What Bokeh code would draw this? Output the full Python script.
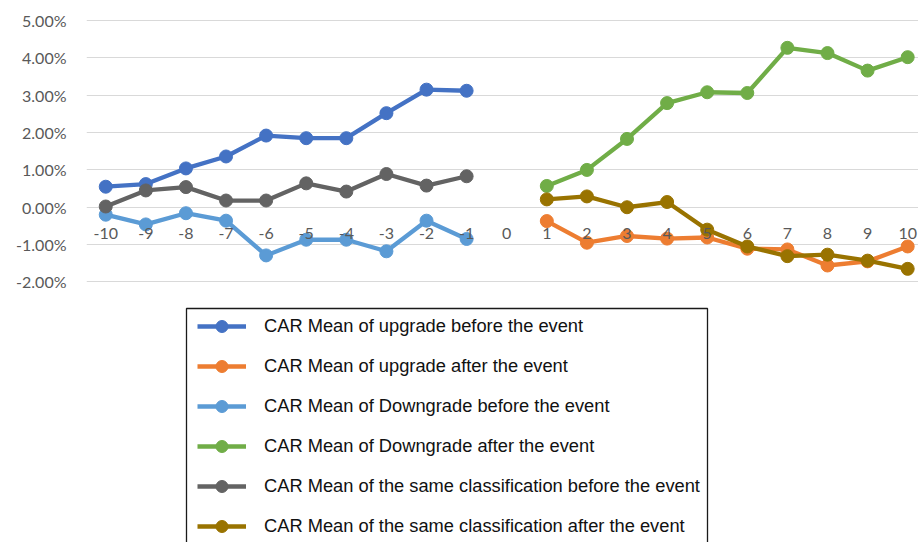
from bokeh.plotting import figure
from bokeh.models import (Range1d, FixedTicker, NumeralTickFormatter, Legend, LegendItem,
                          ColumnDataSource, LabelSet, BoxAnnotation)
from bokeh.core.properties import value
from bokeh.embed import file_html
from bokeh.resources import INLINE

# ---------------- data ----------------
days_before = [-10, -9, -8, -7, -6, -5, -4, -3, -2, -1]
days_after = [1, 2, 3, 4, 5, 6, 7, 8, 9, 10]

upgrade_before = [0.0055, 0.0062, 0.0104, 0.0136, 0.0192, 0.0185, 0.0185, 0.0252, 0.0315, 0.0312]
upgrade_after = [-0.0037, -0.0095, -0.0077, -0.0084, -0.0081, -0.0111, -0.0113, -0.0156, -0.0145, -0.0105]
downgrade_before = [-0.0020, -0.0046, -0.0016, -0.0036, -0.0129, -0.0087, -0.0087, -0.0118, -0.0036, -0.0085]
downgrade_after = [0.0057, 0.0100, 0.0183, 0.0279, 0.0308, 0.0306, 0.0427, 0.0413, 0.0366, 0.0402]
same_before = [0.0002, 0.0045, 0.0054, 0.0018, 0.0018, 0.0064, 0.0042, 0.0089, 0.0058, 0.0083]
same_after = [0.0021, 0.0029, 0.0000, 0.0014, -0.0060, -0.0105, -0.0131, -0.0127, -0.0143, -0.0165]

x_tick_values = [-10, -9, -8, -7, -6, -5, -4, -3, -2, -1, 0, 1, 2, 3, 4, 5, 6, 7, 8, 9, 10]
x_tick_labels = ["-10", "-9", "-8", "-7", "-6", "-5", "-4", "-3", "-2", "-1", "0",
                 "1", "2", "3", "4", "5", "6", "7", "8", "9", "10"]
y_ticks = [-0.02, -0.01, 0.0, 0.01, 0.02, 0.03, 0.04, 0.05]

series = [
    ("CAR Mean of upgrade before the event", days_before, upgrade_before, "#4472C4"),
    ("CAR Mean of upgrade after the event", days_after, upgrade_after, "#ED7D31"),
    ("CAR Mean of Downgrade before the event", days_before, downgrade_before, "#5B9BD5"),
    ("CAR Mean of Downgrade after the event", days_after, downgrade_after, "#70AD47"),
    ("CAR Mean of the same classification before the event", days_before, same_before, "#636363"),
    ("CAR Mean of the same classification after the event", days_after, same_after, "#997300"),
]

# ---------------- figure ----------------
p = figure(width=918, height=542, output_backend="svg", toolbar_location=None,
           x_range=Range1d(-10.48, 10.27), y_range=Range1d(-0.0898, 0.0527),
           x_axis_location=None, min_border_left=86, min_border_right=0,
           min_border_top=10, min_border_bottom=0)
p.outline_line_color = None
p.background_fill_color = "white"
p.border_fill_color = "white"

p.xgrid.visible = False
p.ygrid.ticker = FixedTicker(ticks=y_ticks)
p.ygrid.grid_line_color = "#D9D9D9"
p.ygrid.grid_line_width = 1

ax = p.yaxis[0]
ax.ticker = FixedTicker(ticks=y_ticks)
ax.formatter = NumeralTickFormatter(format="0.00%")
ax.axis_line_color = None
ax.major_tick_line_color = None
ax.minor_tick_line_color = None
ax.major_label_standoff = 14
ax.major_label_text_font = "Lato"
ax.major_label_text_font_size = "16px"
ax.major_label_text_color = "#595959"

# category labels along the zero line
lab_src = ColumnDataSource(dict(x=x_tick_values, y=[0.0] * len(x_tick_values), t=x_tick_labels))
labels = LabelSet(x="x", y="y", text="t", source=lab_src, x_offset=0, y_offset=-26,
                  text_align="center", text_baseline="middle", text_font=value("Lato"),
                  text_font_size="16px", text_color="#595959")
p.add_layout(labels)

items = []
for name, xs, ys, col in series:
    src = ColumnDataSource(dict(x=xs, y=ys))
    lr = p.line("x", "y", source=src, line_color=col, line_width=4.3)
    sr = p.scatter("x", "y", source=src, size=13, fill_color=col, line_color=col)
    items.append(LegendItem(label=name, renderers=[lr, sr]))

# legend frame (cropped at the bottom, as in the original)
frame_box = BoxAnnotation(left=186, right=707, top=308, bottom=600,
                          left_units="canvas", right_units="canvas",
                          top_units="canvas", bottom_units="canvas",
                          fill_alpha=0.0, line_color="#1a1a1a", line_alpha=1.0,
                          line_width=1.3)
p.add_layout(frame_box)

legend = Legend(items=items, location=(111, 1), orientation="vertical",
                glyph_width=49, glyph_height=30, label_height=30, spacing=10,
                padding=0, margin=0, label_standoff=18,
                label_text_font="Liberation Sans", label_text_font_size="18.3px",
                label_text_color="#111111",
                border_line_color=None, background_fill_alpha=0.0)
p.add_layout(legend, "center")

open("out.html", "w").write(file_html(p, INLINE))
